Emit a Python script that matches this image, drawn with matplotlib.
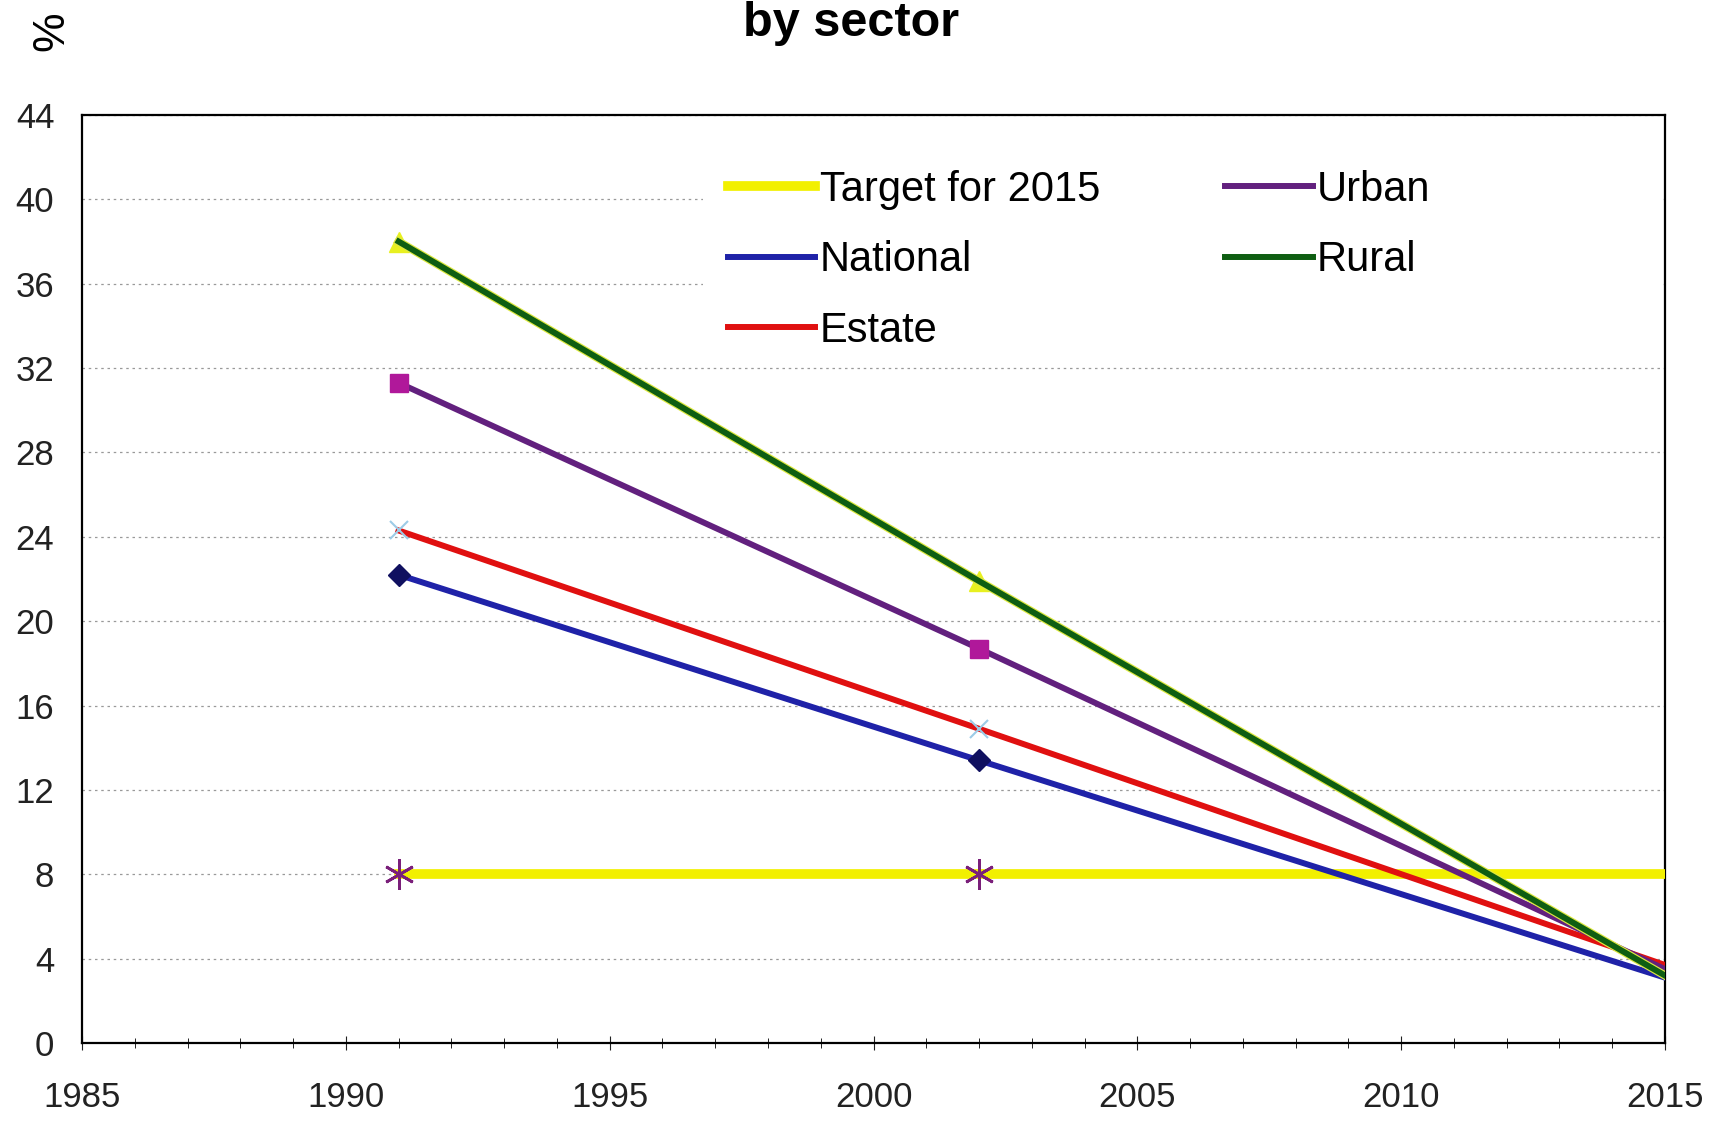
import matplotlib
matplotlib.use("Agg")
from matplotlib import pyplot as plt
from matplotlib.lines import Line2D
from matplotlib.patches import Rectangle
import matplotlib.patheffects as pe

plt.rcParams["font.family"] = ["Liberation Sans", "DejaVu Sans"]

# data
years = [1991, 2002, 2015]
target = [8.0, 8.0, 8.0]
national = [22.2, 13.4, 3.1]
estate = [24.3, 14.9, 3.7]
urban = [31.3, 18.7, 3.5]
rural = [38.0, 21.9, 3.2]

fig = plt.figure(figsize=(17.2, 11.22), dpi=100)
ax = fig.add_axes([0.0477, 0.0704, 0.9203, 0.8271])

# target line with star markers
ax.plot(years, target, color="#F2F000", lw=7, zorder=3)
ax.plot(years[:2], target[:2], ls="none", marker=(6, 2, 0), ms=22, mew=2,
        mec="#7A1F7A", zorder=4)

ax.plot(years, national, color="#1F22A8", lw=4.3, marker="D", ms=11,
        mfc="#101060", mec="#101060", markevery=[0, 1], zorder=5)
ax.plot(years, estate, color="#E01010", lw=4.3, marker="x", ms=13, mew=1.5,
        mec="#9CCBE6", markevery=[0, 1], zorder=5)
ax.plot(years, urban, color="#62207E", lw=4.3, marker="s", ms=13,
        mfc="#B0189A", mec="#B0189A", markevery=[0, 1], zorder=5)
# rural: green line with a yellowish edge, yellow triangles
ax.plot(years, rural, color="#0E5E12", lw=4.3, zorder=5,
        path_effects=[pe.withStroke(linewidth=6, foreground="#DDE840")])
ax.plot(years[:2], rural[:2], ls="none", marker="^", ms=14,
        mfc="#E8F020", mec="#E8F020", zorder=4)

ax.set_xlim(1985, 2015)
ax.set_ylim(0, 44)
ax.set_yticks(range(0, 45, 4))
ax.set_xticks(range(1985, 2016, 5))
ax.set_xticks(range(1985, 2016), minor=True)
ax.grid(axis="y", ls=(0, (2, 3)), color="#999999", lw=0.9)
ax.set_axisbelow(True)
for s in ax.spines.values():
    s.set_linewidth(1.6)
ax.tick_params(axis="x", which="major", direction="inout", length=10, pad=22,
               labelsize=25, colors="#222222")
ax.tick_params(axis="x", which="minor", direction="inout", length=7)
ax.tick_params(axis="y", direction="out", length=0, pad=20, labelsize=25,
               colors="#222222")

# white area behind the legend, reaching the right frame
ax.add_patch(Rectangle((0.392, 0.748), 0.606, 0.245, transform=ax.transAxes,
                       facecolor="white", edgecolor="none", zorder=1))

handles = [
    Line2D([], [], color="#F2F000", lw=7),
    Line2D([], [], color="#1F22A8", lw=4.3),
    Line2D([], [], color="#E01010", lw=4.3),
    Line2D([], [], color="#62207E", lw=4.3),
    Line2D([], [], color="#0E5E12", lw=4.3),
]
labels = ["Target for 2015", "National", "Estate", "Urban", "Rural"]
leg = ax.legend(handles, labels, ncol=2, loc="upper left",
                bbox_to_anchor=(0.387, 0.977), fontsize=30, frameon=False,
                handlelength=2.1, handletextpad=0.1, labelspacing=0.73,
                columnspacing=3.0, borderpad=0.3)
leg.set_zorder(2)

fig.text(0.495, 0.968, "by sector", ha="center", va="baseline",
         fontsize=35, fontweight="bold")
fig.text(0.030, 0.972, "%", ha="center", va="center", rotation=90,
         fontsize=32)

fig.savefig("out.png", dpi=100, facecolor="white")
